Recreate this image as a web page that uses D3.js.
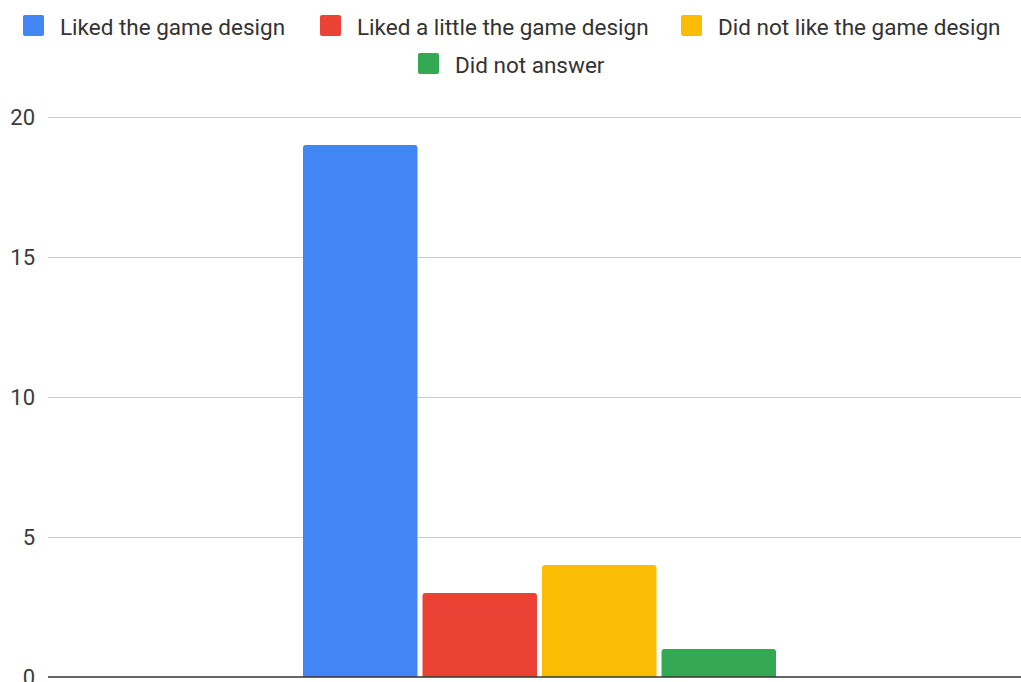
<!DOCTYPE html>
<html>
<head>
<meta charset="utf-8">
<script src="https://cdn.jsdelivr.net/npm/d3@7"></script>
<style>
  html, body { margin: 0; padding: 0; background: #fff; }
  svg { display: block; font-family: Roboto, "Liberation Sans", Arial, sans-serif; }
</style>
</head>
<body>
<svg id="chart" width="1021" height="682"></svg>
<script>
// Survey answers about the game design
const categories = ["Game design"];
const seriesNames = [
  "Liked the game design",
  "Liked a little the game design",
  "Did not like the game design",
  "Did not answer"
];
const seriesValues = [19, 3, 4, 1];
const seriesColors = ["#4285f4", "#ea4335", "#fbbc04", "#34a853"];
const yTicks = [0, 5, 10, 15, 20];

const svg = d3.select("#chart");
const W = 1021, H = 682;
const margin = { left: 48, right: -10, top: 117, bottom: 5 };
const plotRight = W - margin.right;
const baseY = H - margin.bottom;

const y = d3.scaleLinear().domain([0, 20]).range([baseY, margin.top]);

const x0 = d3.scaleBand().domain(categories)
  .range([margin.left, plotRight]).paddingInner(0).paddingOuter(0.539);
const x1 = d3.scaleBand().domain(seriesNames)
  .range([0, x0.bandwidth()]).paddingInner(0.042).paddingOuter(0);

// grid lines + y labels
const yAxis = d3.axisLeft(y).tickValues(yTicks).tickSize(-(plotRight - margin.left)).tickPadding(13);
const gy = svg.append("g").attr("transform", `translate(${margin.left},0)`).call(yAxis);
gy.select(".domain").remove();
gy.selectAll(".tick line").attr("stroke", "#cccccc").attr("stroke-width", 1.2);
gy.selectAll(".tick text").attr("fill", "#3a3a3a").style("font-size", "22px")
  .style("font-family", "Roboto, 'Liberation Sans', Arial, sans-serif");
gy.selectAll(".tick").filter(d => d === 0).select("line").remove();

// bars with slightly rounded tops
function barPath(x, yTop, w, yBot, r) {
  r = Math.min(r, (yBot - yTop) / 2, w / 2);
  return `M${x},${yBot}V${yTop + r}Q${x},${yTop} ${x + r},${yTop}H${x + w - r}Q${x + w},${yTop} ${x + w},${yTop + r}V${yBot}Z`;
}
const g = svg.append("g");
categories.forEach(cat => {
  g.selectAll("path.bar").data(seriesNames).enter().append("path")
    .attr("class", "bar")
    .attr("fill", (d, i) => seriesColors[i])
    .attr("d", (d, i) => barPath(x0(cat) + x1(d), y(seriesValues[i]), x1.bandwidth(), y(0), 3));
});

// baseline
svg.append("line").attr("x1", margin.left).attr("x2", plotRight)
  .attr("y1", y(0)).attr("y2", y(0)).attr("stroke", "#333").attr("stroke-width", 1.5);

// legend
const legendRows = [
  { items: [0, 1, 2], cy: 26 },
  { items: [3], cy: 64 }
];
const legX = [[23, 320, 681], [418]];
legendRows.forEach((row, ri) => {
  row.items.forEach((si, k) => {
    const lx = legX[ri][k];
    svg.append("rect").attr("x", lx).attr("y", row.cy - 11).attr("width", 21).attr("height", 21)
      .attr("rx", 2).attr("fill", seriesColors[si]);
    svg.append("text").attr("x", lx + 37).attr("y", row.cy + 1).attr("dy", "0.35em")
      .attr("fill", "#333").style("font-size", "22.5px").text(seriesNames[si]);
  });
});
</script>
</body>
</html>
